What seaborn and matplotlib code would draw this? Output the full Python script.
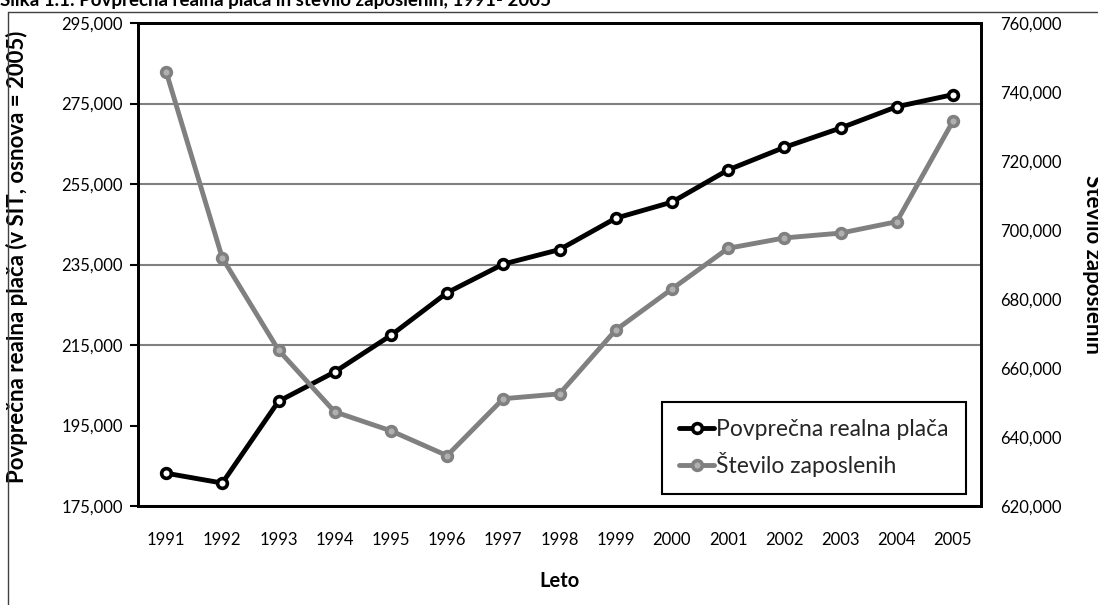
import matplotlib
matplotlib.use('Agg')
import matplotlib.pyplot as plt
from matplotlib.lines import Line2D
import pandas as pd
import seaborn as sns

leta = [1991, 1992, 1993, 1994, 1995, 1996, 1997, 1998, 1999, 2000,
        2001, 2002, 2003, 2004, 2005]
placa = [183150, 180700, 201000, 208300, 217400, 228000, 235100, 238700,
         246500, 250500, 258500, 264100, 268900, 274200, 277200]
zaposleni = [745900, 691900, 665200, 647300, 641800, 634600, 651100, 652500,
             671000, 682900, 694700, 697700, 699100, 702400, 731500]
levi_ticki = [175000, 195000, 215000, 235000, 255000, 275000, 295000]
desni_ticki = [620000, 640000, 660000, 680000, 700000, 720000, 740000, 760000]

df = pd.DataFrame({'Leto': leta, 'placa': placa, 'zaposleni': zaposleni})

sns.set_theme(style='white')
plt.rcParams['font.family'] = ['Lato', 'DejaVu Sans']

fig, ax = plt.subplots(figsize=(10.98, 6.05), dpi=100)
fig.subplots_adjust(left=138 / 1098, right=981 / 1098, bottom=1 - 506 / 605, top=1 - 23 / 605)
ax2 = ax.twinx()

sns.lineplot(data=df, x='Leto', y='placa', ax=ax, color='black', lw=3.5,
             marker='o', ms=7, mfc='white', mec='black', mew=2.6,
             label='Povprečna realna plača', legend=False)
sns.lineplot(data=df, x='Leto', y='zaposleni', ax=ax2, color='#808080', lw=3.5,
             marker='o', ms=7, mfc='#b0b0b0', mec='#808080', mew=2.6,
             label='Število zaposlenih', legend=False)

ax.set_xlim(1990.5, 2005.5)
ax.set_ylim(175000, 295000)
ax2.set_ylim(620000, 760000)
ax.set_xticks(leta)
ax.set_yticks(levi_ticki)
ax2.set_yticks(desni_ticki)
ax.yaxis.set_major_formatter(matplotlib.ticker.StrMethodFormatter('{x:,.0f}'))
ax2.yaxis.set_major_formatter(matplotlib.ticker.StrMethodFormatter('{x:,.0f}'))

ax.tick_params(axis='x', bottom=False, pad=13, labelsize=12, colors='black')
ax.tick_params(axis='y', left=True, length=6, width=1.5, pad=5, labelsize=12, colors='black')
ax2.tick_params(axis='y', right=False, length=0, pad=14, labelsize=12, colors='black')

ax.grid(axis='y', color='#808080', lw=1.5)
ax.grid(axis='x', visible=False)
ax2.grid(False)
for val, gl in zip(levi_ticki, ax.get_ygridlines()):
    if val == 195000:
        gl.set_visible(False)

for a in (ax, ax2):
    for s in a.spines.values():
        s.set_color('black')
        s.set_linewidth(2)

ax.set_xlabel('Leto', fontsize=14.5, fontweight='bold', color='black')
ax.xaxis.set_label_coords(0.5, -0.134)
ax.set_ylabel('Povprečna realna plača (v SIT, osnova = 2005)', fontsize=16,
              fontweight='bold', color='black')
ax.yaxis.set_label_coords(-0.1305, 0.515)
ax2.set_ylabel('Število zaposlenih', fontsize=16, fontweight='bold', color='black',
               rotation=270, va='center')
ax2.yaxis.set_label_coords(1.135, 0.5)

h1, l1 = ax.get_legend_handles_labels()
h2, l2 = ax2.get_legend_handles_labels()
leg = ax2.legend(h1 + h2, l1 + l2, loc='lower right', bbox_to_anchor=(0.982, 0.025),
                 fontsize=16.5, frameon=True, fancybox=False, framealpha=1,
                 edgecolor='black', handlelength=1.5, handletextpad=0.1,
                 borderpad=0.75, labelspacing=0.5, borderaxespad=0)
leg.get_frame().set_linewidth(1.5)
leg.set_zorder(10)

fig.text(0.0, 1 - 6 / 605, 'Slika 1.1: Povprečna realna plača in število zaposlenih, 1991- 2005',
         fontsize=13.5, fontweight='bold', va='baseline', ha='left', color='black')
fig.add_artist(Line2D([8 / 1098, 8 / 1098], [0, 1 - 12 / 605], color='#404040', lw=1))
fig.add_artist(Line2D([8 / 1098, 1], [1 - 12 / 605, 1 - 12 / 605], color='#404040', lw=1))

fig.savefig('out.png', dpi=100)
